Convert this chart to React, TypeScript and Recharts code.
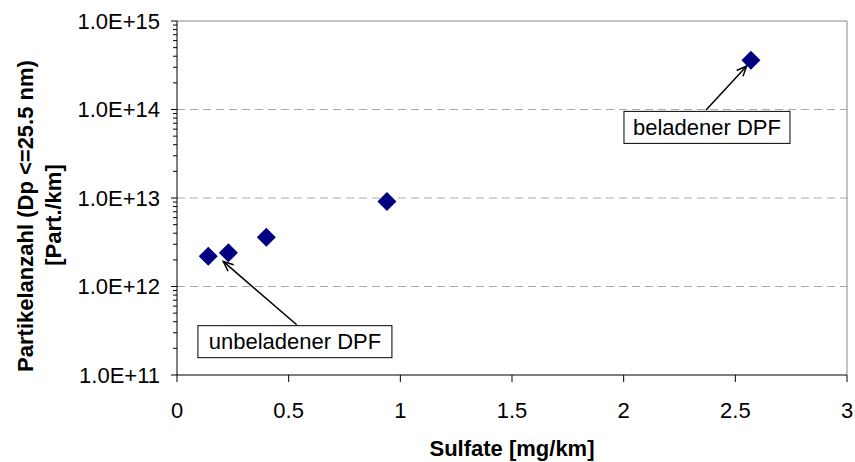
import React from "react";
import {
  ReferenceDot,
  ReferenceLine,
  Scatter,
  ScatterChart,
  XAxis,
  YAxis,
} from "recharts";

const FONT = "'Liberation Sans', Arial, sans-serif";

// measurements
const sulfate = [0.14, 0.23, 0.4, 0.94, 2.57];
const particles = [2.2e12, 2.4e12, 3.6e12, 9.1e12, 3.6e14];

// axes
const xTicks = [0, 0.5, 1, 1.5, 2, 2.5, 3];
const decades = [11, 12, 13, 14];
const gridValues = [1e12, 1e13, 1e14];

// annotations
const noteLabels = ["unbeladener DPF", "beladener DPF"];
const noteX = [0.528, 2.373];
const noteY = [2.38e11, 6.28e13];
const arrowFrom = [
  { x: 0.536, y: 3.7e11 },
  { x: 2.369, y: 9.9e13 },
];
const arrowTo = [
  { x: 0.207, y: 1.92e12 },
  { x: 2.551, y: 3.1e14 },
];
const noteBoxWidth = [194, 166];

const points = sulfate.map((x, i) => ({ x, y: particles[i] }));

// 1..9 x 10^n for every decade, plus the top value
const yTicks: number[] = [];
decades.forEach((d) => {
  for (let m = 1; m <= 9; m++) yTicks.push(m * Math.pow(10, d));
});
yTicks.push(1e15);

const isMajor = (v: number) => {
  const l = Math.log10(v);
  return Math.abs(l - Math.round(l)) < 1e-9;
};

const formatExp = (v: number) => `1.0E+${Math.round(Math.log10(v))}`;

function YTick(props: any) {
  const { x, y, payload } = props;
  const major = isMajor(payload.value);
  return (
    <g>
      <line x1={x - (major ? 6 : 4)} x2={x} y1={y} y2={y} stroke="#000" strokeWidth={1} />
      {major && (
        <text
          x={x - 17}
          y={y}
          dy="0.35em"
          textAnchor="end"
          fontSize={22}
          fontFamily={FONT}
          fill="#000"
        >
          {formatExp(payload.value)}
        </text>
      )}
    </g>
  );
}

function Diamond(props: any) {
  const { cx, cy } = props;
  const r = 9.5;
  return (
    <polygon
      points={`${cx},${cy - r} ${cx + r},${cy} ${cx},${cy + r} ${cx - r},${cy}`}
      fill="#000080"
    />
  );
}

function Arrow(props: any) {
  const { x1, y1, x2, y2 } = props;
  const a = Math.atan2(y2 - y1, x2 - x1);
  const len = 11;
  const spread = 0.4;
  const h1x = x2 - len * Math.cos(a - spread);
  const h1y = y2 - len * Math.sin(a - spread);
  const h2x = x2 - len * Math.cos(a + spread);
  const h2y = y2 - len * Math.sin(a + spread);
  return (
    <g>
      <line x1={x1} y1={y1} x2={x2} y2={y2} stroke="#000" strokeWidth={1.5} />
      <polyline
        points={`${h1x},${h1y} ${x2},${y2} ${h2x},${h2y}`}
        fill="none"
        stroke="#000"
        strokeWidth={1.5}
      />
    </g>
  );
}

function noteBox(label: string, w: number) {
  return (props: any) => {
    const { cx, cy } = props;
    const h = 32;
    return (
      <g>
        <rect x={cx - w / 2} y={cy - h / 2} width={w} height={h} fill="#fff" stroke="#000" strokeWidth={1} />
        <text
          x={cx}
          y={cy}
          dy="0.35em"
          textAnchor="middle"
          fontSize={22}
          fontFamily={FONT}
          fill="#000"
        >
          {label}
        </text>
      </g>
    );
  };
}

function YTitle() {
  const cy = 216;
  return (
    <g fontFamily={FONT} fontSize={22} fontWeight="bold" fill="#000">
      <text transform={`translate(33,${cy}) rotate(-90)`} textAnchor="middle">
        Partikelanzahl (Dp &lt;=25.5 nm)
      </text>
      <text transform={`translate(61,${cy - 1}) rotate(-90)`} textAnchor="middle">
        [Part./km]
      </text>
    </g>
  );
}

function XTitle(props: any) {
  const { viewBox } = props;
  return (
    <text
      x={viewBox.x + viewBox.width / 2}
      y={456}
      textAnchor="middle"
      fontFamily={FONT}
      fontSize={22}
      fontWeight="bold"
      fill="#000"
    >
      Sulfate [mg/km]
    </text>
  );
}

export default function App() {
  return (
    <div style={{ position: "absolute", left: 0, top: 0, background: "#fff" }}>
      <ScatterChart width={855} height={462} margin={{ top: 21, right: 8, bottom: 0, left: 0 }}>
        <XAxis
          type="number"
          dataKey="x"
          domain={[0, 3]}
          ticks={xTicks}
          interval={0}
          height={87}
          tickSize={7}
          tickMargin={20}
          axisLine={{ stroke: "#000" }}
          tickLine={{ stroke: "#000" }}
          tick={{ fill: "#000", fontSize: 22, fontFamily: FONT }}
          label={<XTitle />}
        />
        <YAxis
          type="number"
          dataKey="y"
          scale="log"
          domain={[1e11, 1e15]}
          allowDataOverflow
          ticks={yTicks}
          interval={0}
          width={177}
          tickSize={0}
          tickMargin={0}
          tickLine={false}
          axisLine={{ stroke: "#000" }}
          tick={<YTick />}
          label={<YTitle />}
        />
        {gridValues.map((v) => (
          <ReferenceLine key={`grid-${v}`} y={v} stroke="#aaa" strokeDasharray="8 5" />
        ))}
        <ReferenceLine y={1e15} stroke="#888" strokeWidth={1} />
        <ReferenceLine x={3} stroke="#888" strokeWidth={1} />
        <Scatter data={points} shape={<Diamond />} isAnimationActive={false} />
        {noteLabels.map((label, i) => (
          <ReferenceLine
            key={`arrow-${i}`}
            segment={[arrowFrom[i], arrowTo[i]]}
            shape={(p: any) => <Arrow {...p} />}
          />
        ))}
        {noteLabels.map((label, i) => (
          <ReferenceDot
            key={`note-${i}`}
            x={noteX[i]}
            y={noteY[i]}
            r={1}
            shape={noteBox(label, noteBoxWidth[i])}
          />
        ))}
      </ScatterChart>
    </div>
  );
}
